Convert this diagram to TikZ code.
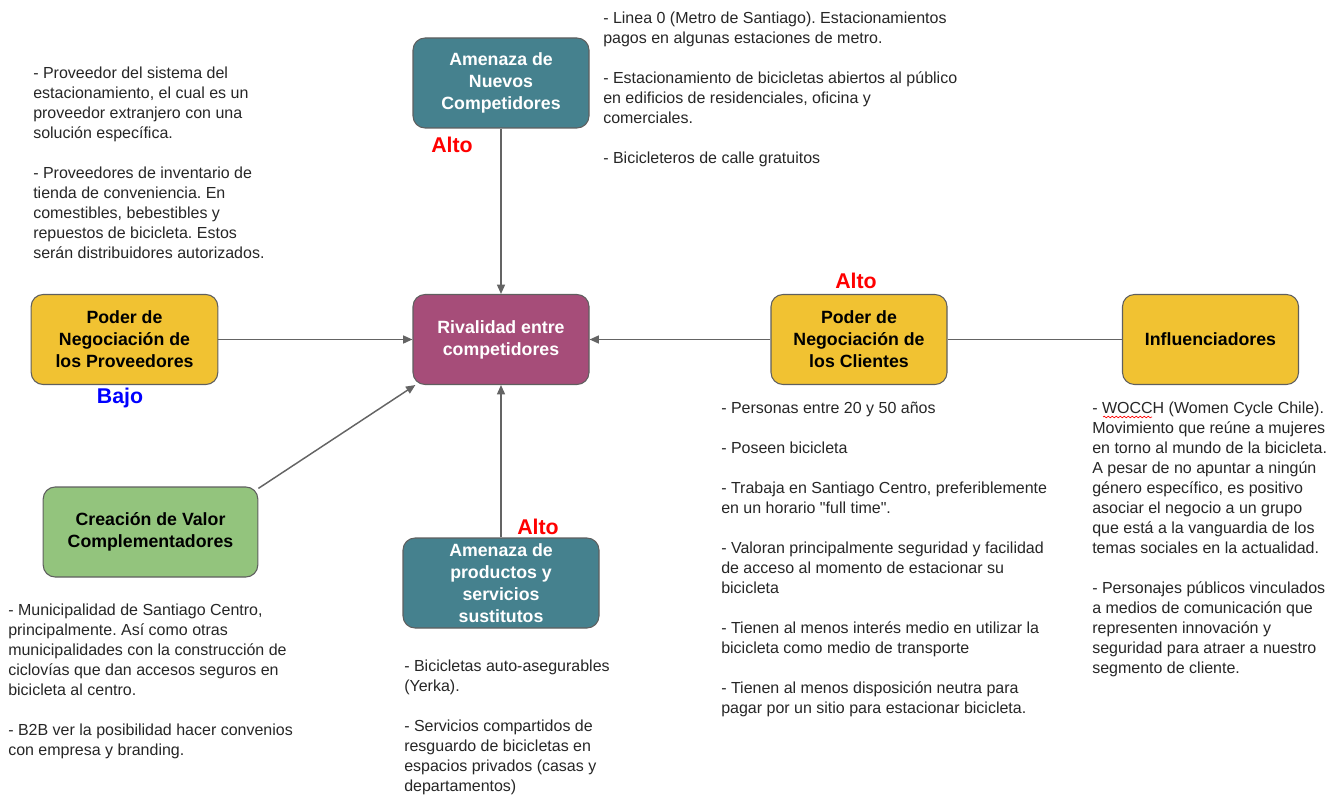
\documentclass[tikz,border=0pt]{standalone}
\usepackage{fontspec}
\setmainfont{Liberation Sans}
\usetikzlibrary{arrows.meta,decorations.pathmorphing}
\definecolor{tealbox}{RGB}{69,129,142}
\definecolor{purplebox}{RGB}{166,77,121}
\definecolor{yellowbox}{RGB}{241,194,50}
\definecolor{greenbox}{RGB}{147,196,125}
\definecolor{bordergray}{RGB}{95,95,95}
\definecolor{linegray}{RGB}{100,100,100}
\newcommand{\nivel}[2]{\textcolor{#1}{#2}}
\frenchspacing

\begin{document}
\begin{tikzpicture}[x=0.75pt,y=-0.75pt,
  fuerza/.style={draw=bordergray, line width=0.8pt, rounded corners=9pt, align=center,
    font=\bfseries\fontsize{13.3}{16.5}\selectfont, inner sep=0pt,
    minimum width=132pt, minimum height=67.5pt},
  notas/.style={anchor=north west, align=left, inner sep=0pt,
    font=\fontsize{12}{15}\selectfont, text=black!85},
  nivel/.style={font=\bfseries\fontsize{16}{18}\selectfont, inner sep=0pt},
  linea/.style={color=linegray, line width=1.1pt},
  >={Triangle[length=7pt,width=6pt]}]
\useasboundingbox (0,0) rectangle (1342,795);
\node[fuerza, fill=tealbox, text=white] (nuevos) at (501,83) {Amenaza de\\Nuevos\\Competidores};
\node[fuerza, fill=yellowbox, minimum width=140pt] (prov) at (124.5,339.5) {Poder de\\Negociación de\\los Proveedores};
\node[fuerza, fill=purplebox, text=white] (rival) at (501,339.5) {Rivalidad entre\\competidores};
\node[fuerza, fill=yellowbox] (clientes) at (859,339.5) {Poder de\\Negociación de\\los Clientes};
\node[fuerza, fill=yellowbox] (influ) at (1210.5,339.5) {Influenciadores};
\node[fuerza, fill=greenbox, minimum width=161pt] (valor) at (150.5,532) {Creación de Valor\\Complementadores};
\node[fuerza, fill=tealbox, text=white, minimum width=147pt] (sust) at (501,583) {Amenaza de\\productos y\\servicios\\sustitutos};

\node[nivel] (n-nuevos) at (452,145) {\nivel{red}{Alto}};
\node[nivel] (n-prov) at (120,398) {\nivel{blue}{Bajo}};
\node[nivel] (n-clientes) at (856,281) {\nivel{red}{Alto}};
\node[nivel] (n-sust) at (538,527) {\nivel{red}{Alto}};

\path[->, linea] (nuevos) edge (rival)
  (prov) edge (rival)
  (clientes) edge (rival)
  (sust) edge (rival)
  (valor.22) edge (rival.208);
\path[linea] (influ) edge (clientes);

\node[notas] (t-prov) at (33,67) {- Proveedor del sistema del\\estacionamiento, el cual es un\\proveedor extranjero con una\\solución específica.\\[15pt]- Proveedores de inventario de\\tienda de conveniencia. En\\comestibles, bebestibles y\\repuestos de bicicleta. Estos\\serán distribuidores autorizados.};
\node[notas] (t-nuevos) at (603,12) {- Linea 0 (Metro de Santiago). Estacionamientos\\pagos en algunas estaciones de metro.\\[15pt]- Estacionamiento de bicicletas abiertos al público\\en edificios de residenciales, oficina y\\comerciales.\\[15pt]- Bicicleteros de calle gratuitos};
\node[notas] (t-valor) at (8,604) {- Municipalidad de Santiago Centro,\\principalmente. Así como otras\\municipalidades con la construcción de\\ciclovías que dan accesos seguros en\\bicicleta al centro.\\[15pt]- B2B ver la posibilidad hacer convenios\\con empresa y branding.};
\node[notas] (t-sust) at (404,660) {- Bicicletas auto-asegurables\\(Yerka).\\[15pt]- Servicios compartidos de\\resguardo de bicicletas en\\espacios privados (casas y\\departamentos)};
\node[notas] (t-clientes) at (721,402) {- Personas entre 20 y 50 años\\[15pt]- Poseen bicicleta\\[15pt]- Trabaja en Santiago Centro, preferiblemente\\en un horario \textquotedbl full time\textquotedbl.\\[15pt]- Valoran principalmente seguridad y facilidad\\de acceso al momento de estacionar su\\bicicleta\\[15pt]- Tienen al menos interés medio en utilizar la\\bicicleta como medio de transporte\\[15pt]- Tienen al menos disposición neutra para\\pagar por un sitio para estacionar bicicleta.};
\node[notas] (t-influ) at (1092,402) {- WOCCH (Women Cycle Chile).\\Movimiento que reúne a mujeres\\en torno al mundo de la bicicleta.\\A pesar de no apuntar a ningún\\género específico, es positivo\\asociar el negocio a un grupo\\que está a la vanguardia de los\\temas sociales en la actualidad.\\[15pt]- Personajes públicos vinculados\\a medios de comunicación que\\representen innovación y\\seguridad para atraer a nuestro\\segmento de cliente.};
\draw[red, line width=0.5pt, decorate, decoration={snake, amplitude=0.6pt, segment length=3pt}] (1103,417) -- (1152,417);
\end{tikzpicture}
\end{document}
